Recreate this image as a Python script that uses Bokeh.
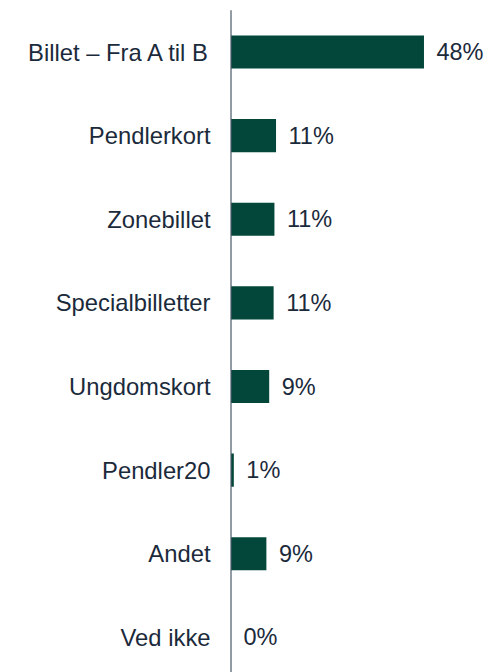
from bokeh.plotting import figure
from bokeh.models import Range1d, ColumnDataSource
from bokeh.core.properties import value
from bokeh.embed import file_html
from bokeh.resources import INLINE

categories = ["Billet \u2013 Fra A til B", "Pendlerkort", "Zonebillet", "Specialbilletter",
              "Ungdomskort", "Pendler20", "Andet", "Ved ikke"]
values = [48.0, 11.2, 10.8, 10.6, 9.5, 0.7, 8.8, 0.0]
labels = ["48%", "11%", "11%", "11%", "9%", "1%", "9%", "0%"]

pos = list(range(len(categories)))
src = ColumnDataSource(dict(y=pos, v=values, cat=categories, lab=labels,
                            zero=[0] * len(pos)))

W, H = 488, 672
p = figure(width=W, height=H, output_backend="svg", toolbar_location=None,
           x_range=Range1d(-57.34, 64.05), y_range=Range1d(7.42, -0.616),
           min_border=0, min_border_left=0, min_border_right=0,
           min_border_top=0, min_border_bottom=0)
p.axis.visible = False
p.grid.visible = False
p.outline_line_color = None
p.background_fill_color = "white"
p.border_fill_color = "white"

p.hbar(y="y", left=0, right="v", height=0.395, source=src,
       fill_color="#03473a", line_color=None)

# vertical axis line
p.segment(x0=0, x1=0, y0=-0.5, y1=7.42, line_color="#4a5868", line_width=1.2)

font = value("Liberation Sans")
p.text(x="zero", y="y", text="cat", source=src, text_align="right",
       text_baseline="middle", x_offset=-20.5, text_font=font,
       text_font_size="23.8px", text_color="#1b2a3b")
p.text(x="v", y="y", text="lab", source=src, text_align="left",
       text_baseline="middle", x_offset=12.5, text_font=font,
       text_font_size="23.5px", text_color="#1b2a3b")

open("out.html", "w").write(file_html(p, INLINE))
